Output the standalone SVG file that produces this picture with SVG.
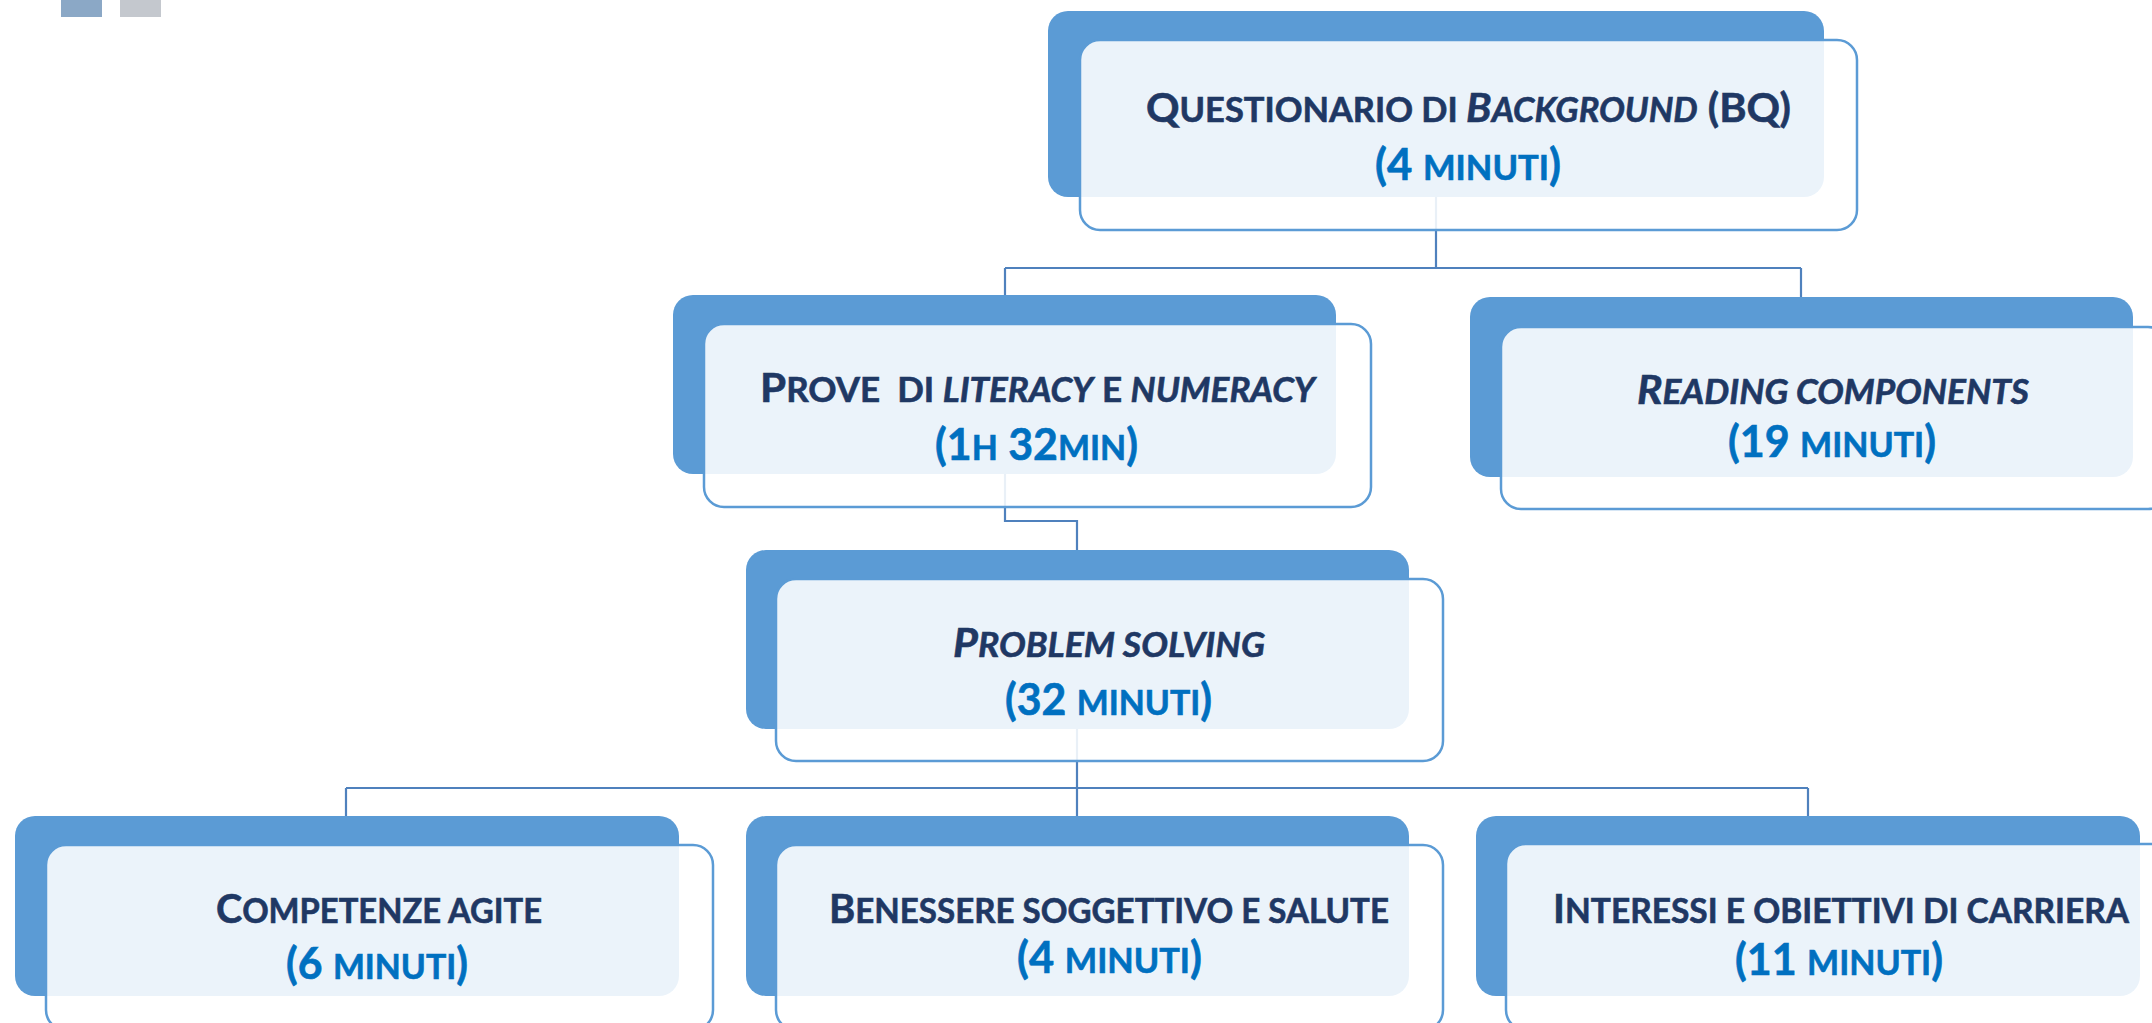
<svg xmlns="http://www.w3.org/2000/svg" width="2152" height="1023" viewBox="0 0 2152 1023">
<style>
.back{fill:#5b9bd5}
.front{fill:#ffffff;fill-opacity:0.88;stroke:#5b9bd5;stroke-width:2.5}
.conn{fill:none;stroke:#4f81bd;stroke-width:2.2}
.t1{font-family:Lato,"Open Sans","Liberation Sans",sans-serif;font-weight:700;fill:#1f3864;stroke:#1f3864;stroke-width:0.6}
.t2{font-family:Lato,"Open Sans","Liberation Sans",sans-serif;font-weight:700;fill:#0070c0;stroke:#0070c0;stroke-width:0.6}
.b1{font-size:41px}
.b2{font-size:43px}
.s{font-size:34px}
.i{font-style:italic}
</style>
<g id="decor">
<rect x="61" y="0" width="41" height="17" fill="#8ba8c6"/>
<rect x="120" y="0" width="41" height="17" fill="#c4c8ce"/>
</g>
<g id="connectors">
<path class="conn" d="M1436 197 V268 M1005 268 H1801 M1005 268 V295 M1801 268 V297"/>
<path class="conn" d="M1005 474 V521 H1077 V550"/>
<path class="conn" d="M1077 729 V788 M346 788 H1808 M346 788 V816 M1077 788 V816 M1808 788 V816"/>
</g>
<g id="n-bq">
<rect class="back" x="1048" y="11" width="776" height="186" rx="20"/>
<rect class="front" x="1080" y="40" width="777" height="190" rx="20"/>
<text class="t1" x="1146" y="122" textLength="645" lengthAdjust="spacingAndGlyphs"><tspan class="b1">Q</tspan><tspan class="s">UESTIONARIO DI </tspan><tspan class="b1 i">B</tspan><tspan class="s i">ACKGROUND</tspan><tspan class="b1"> (BQ)</tspan></text>
<text class="t2" x="1375" y="180" textLength="186" lengthAdjust="spacingAndGlyphs"><tspan class="b2">(4 </tspan><tspan class="s">MINUTI</tspan><tspan class="b2">)</tspan></text>
</g>
<g id="n-prove">
<rect class="back" x="673" y="295" width="663" height="179" rx="20"/>
<rect class="front" x="704" y="324" width="667" height="183" rx="20"/>
<text class="t1" x="760" y="402" textLength="555" lengthAdjust="spacingAndGlyphs" xml:space="preserve"><tspan class="b1">P</tspan><tspan class="s">ROVE  DI </tspan><tspan class="s i">LITERACY</tspan><tspan class="s"> E </tspan><tspan class="s i">NUMERACY</tspan></text>
<text class="t2" x="935" y="460" textLength="203" lengthAdjust="spacingAndGlyphs"><tspan class="b2">(1</tspan><tspan class="s">H</tspan><tspan class="b2"> 32</tspan><tspan class="s">MIN</tspan><tspan class="b2">)</tspan></text>
</g>
<g id="n-reading">
<rect class="back" x="1470" y="297" width="663" height="180" rx="20"/>
<rect class="front" x="1501" y="327" width="667" height="182" rx="20"/>
<text class="t1" x="1637" y="404" textLength="392" lengthAdjust="spacingAndGlyphs"><tspan class="b1 i">R</tspan><tspan class="s i">EADING COMPONENTS</tspan></text>
<text class="t2" x="1728" y="457" textLength="208" lengthAdjust="spacingAndGlyphs"><tspan class="b2">(19 </tspan><tspan class="s">MINUTI</tspan><tspan class="b2">)</tspan></text>
</g>
<g id="n-problem">
<rect class="back" x="746" y="550" width="663" height="179" rx="20"/>
<rect class="front" x="776" y="579" width="667" height="182" rx="20"/>
<text class="t1" x="953" y="657" textLength="312" lengthAdjust="spacingAndGlyphs"><tspan class="b1 i">P</tspan><tspan class="s i">ROBLEM SOLVING</tspan></text>
<text class="t2" x="1005" y="715" textLength="207" lengthAdjust="spacingAndGlyphs"><tspan class="b2">(32 </tspan><tspan class="s">MINUTI</tspan><tspan class="b2">)</tspan></text>
</g>
<g id="n-competenze">
<rect class="back" x="15" y="816" width="664" height="180" rx="20"/>
<rect class="front" x="46" y="845" width="667" height="185" rx="20"/>
<text class="t1" x="216" y="923" textLength="326" lengthAdjust="spacingAndGlyphs"><tspan class="b1">C</tspan><tspan class="s">OMPETENZE AGITE</tspan></text>
<text class="t2" x="286" y="979" textLength="182" lengthAdjust="spacingAndGlyphs"><tspan class="b2">(6 </tspan><tspan class="s">MINUTI</tspan><tspan class="b2">)</tspan></text>
</g>
<g id="n-benessere">
<rect class="back" x="746" y="816" width="663" height="180" rx="20"/>
<rect class="front" x="776" y="845" width="667" height="185" rx="20"/>
<text class="t1" x="829" y="923" textLength="560" lengthAdjust="spacingAndGlyphs"><tspan class="b1">B</tspan><tspan class="s">ENESSERE SOGGETTIVO E SALUTE</tspan></text>
<text class="t2" x="1017" y="973" textLength="185" lengthAdjust="spacingAndGlyphs"><tspan class="b2">(4 </tspan><tspan class="s">MINUTI</tspan><tspan class="b2">)</tspan></text>
</g>
<g id="n-interessi">
<rect class="back" x="1476" y="816" width="664" height="180" rx="20"/>
<rect class="front" x="1506" y="844" width="667" height="186" rx="20"/>
<text class="t1" x="1553" y="923" textLength="576" lengthAdjust="spacingAndGlyphs"><tspan class="b1">I</tspan><tspan class="s">NTERESSI E OBIETTIVI DI CARRIERA</tspan></text>
<text class="t2" x="1735" y="975" textLength="208" lengthAdjust="spacingAndGlyphs"><tspan class="b2">(11 </tspan><tspan class="s">MINUTI</tspan><tspan class="b2">)</tspan></text>
</g>
</svg>
